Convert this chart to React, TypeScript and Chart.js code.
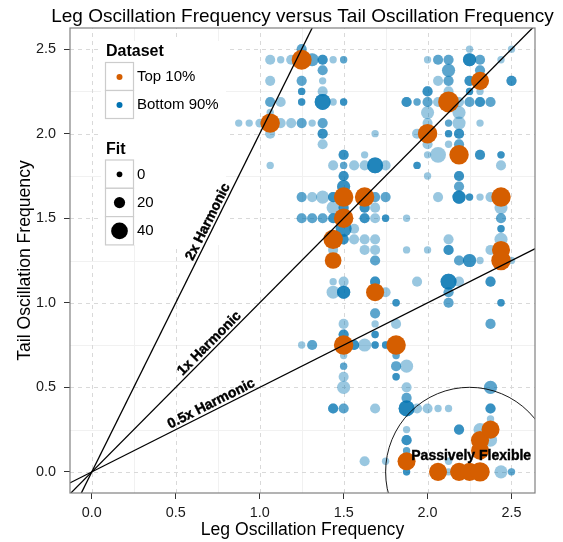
import { useEffect, useRef } from 'react';
import { Chart, registerables } from 'chart.js';

Chart.register(...registerables);

const titleText = 'Leg Oscillation Frequency versus Tail Oscillation Frequency';
const xTitle = 'Leg Oscillation Frequency';
const yTitle = 'Tail Oscillation Frequency';

const xTicks = [0, 0.5, 1, 1.5, 2, 2.5];
const yTicks = [0, 0.5, 1, 1.5, 2, 2.5];
const xMinor = [0.25, 0.75, 1.25, 1.75, 2.25];
const yMinor = [0.25, 0.75, 1.25, 1.75, 2.25];
const xRange = [-0.13, 2.64];
const yRange = [-0.125, 2.625];

const harmonics = [2, 1, 0.5];
const harmonicLabels = ['2x Harmonic', '1x Harmonic', '0.5x Harmonic'];
const harmonicLabelX = 0.73;

const passiveCircle = [2.25, 0, 0.5];
const passiveLabel = 'Passively Flexible';
const passiveLabelPos = [2.26, 0.095];

const seriesNames = ['Top 10%', 'Bottom 90%'];
const fitLegendValues = [0, 20, 40];

// [leg freq, tail freq, fit]
const topPoints: [number, number, number][] = [
  [1.0625, 2.0625, 50], [1.25, 2.4375, 52], [1.4375, 1.375, 50], [1.4375, 1.25, 40],
  [1.5, 1.625, 50], [1.5, 1.5, 50], [1.625, 1.625, 50], [1.6875, 1.0625, 45],
  [1.5, 0.75, 50], [1.8125, 0.75, 50], [2.0, 2.0, 50], [2.125, 2.1875, 55],
  [2.1875, 1.875, 50], [2.3125, 2.3125, 45], [2.4375, 1.625, 50], [2.4375, 1.3125, 45],
  [2.4375, 1.25, 50], [1.875, 0.0625, 45], [2.0625, 0.0, 45], [2.1875, 0.0, 45],
  [2.25, 0.0, 45], [2.3125, 0.0, 50], [2.3125, 0.125, 45], [2.3125, 0.1875, 45],
  [2.375, 0.25, 45],
];

// [leg freq, tail freq, fit, overlapping count]
const bottomPoints: [number, number, number, number][] = [
  [0.875, 2.0625, 6, 1], [0.9375, 2.0625, 6, 1], [1.0, 2.0625, 11, 1],
  [1.0625, 2.4375, 16, 1], [1.0625, 2.3125, 16, 1], [1.0625, 2.1875, 16, 2], [1.0625, 2.125, 6, 1],
  [1.0625, 2.0, 16, 1], [1.0625, 1.8125, 6, 1],
  [1.125, 2.4375, 6, 1], [1.125, 2.1875, 16, 1], [1.125, 2.0625, 16, 1],
  [1.1875, 2.4375, 16, 1], [1.1875, 2.0625, 16, 1],
  [1.25, 2.5, 16, 2], [1.25, 2.3125, 16, 2], [1.25, 2.25, 6, 3], [1.25, 2.1875, 6, 3],
  [1.25, 2.0625, 16, 2], [1.25, 1.625, 16, 2], [1.25, 1.5, 16, 2], [1.25, 0.75, 6, 1],
  [1.3125, 2.4375, 27, 2], [1.3125, 2.0625, 6, 1], [1.3125, 1.625, 16, 1], [1.3125, 1.5, 16, 2],
  [1.3125, 0.75, 16, 2],
  [1.375, 2.4375, 16, 3], [1.375, 2.375, 16, 2], [1.375, 2.3125, 6, 1], [1.375, 2.25, 16, 1],
  [1.375, 2.1875, 37, 4], [1.375, 2.0625, 16, 2], [1.375, 2.0, 16, 3], [1.375, 1.9375, 16, 1],
  [1.375, 1.625, 27, 1], [1.375, 1.5, 16, 2],
  [1.4375, 2.4375, 6, 1], [1.4375, 2.1875, 6, 1], [1.4375, 1.8125, 16, 1], [1.4375, 1.625, 16, 3],
  [1.4375, 1.5625, 27, 1], [1.4375, 1.5, 16, 3], [1.4375, 1.3125, 16, 1], [1.4375, 1.125, 6, 1],
  [1.4375, 1.0625, 27, 1], [1.4375, 0.375, 16, 3],
  [1.5, 2.4375, 6, 2], [1.5, 2.1875, 6, 3], [1.5, 1.875, 16, 3], [1.5, 1.8125, 6, 2],
  [1.5, 1.75, 16, 3], [1.5, 1.6875, 27, 3], [1.5, 1.5625, 16, 3], [1.5, 1.4375, 37, 3],
  [1.5, 1.375, 16, 3], [1.5, 1.125, 16, 1], [1.5, 1.0625, 27, 4], [1.5, 0.875, 16, 1],
  [1.5, 0.8125, 16, 3], [1.5, 0.6875, 6, 1], [1.5, 0.625, 6, 2], [1.5, 0.5625, 16, 1],
  [1.5, 0.5, 27, 1], [1.5, 0.375, 16, 2],
  [1.5625, 1.8125, 16, 1], [1.5625, 1.4375, 16, 1], [1.5625, 1.375, 16, 1], [1.5625, 0.75, 16, 3],
  [1.625, 1.875, 6, 1], [1.625, 1.8125, 16, 1], [1.625, 1.5625, 16, 3], [1.625, 1.5, 16, 3],
  [1.625, 1.375, 16, 1], [1.625, 1.3125, 16, 1], [1.625, 0.75, 27, 1], [1.625, 0.0625, 16, 1],
  [1.6875, 2.0, 6, 1], [1.6875, 1.8125, 37, 4], [1.6875, 1.625, 16, 2], [1.6875, 1.5625, 16, 1],
  [1.6875, 1.5, 16, 1], [1.6875, 1.375, 16, 1], [1.6875, 1.3125, 16, 1], [1.6875, 1.25, 16, 2],
  [1.6875, 1.125, 16, 3], [1.6875, 0.9375, 16, 2], [1.6875, 0.875, 6, 1], [1.6875, 0.8125, 6, 3],
  [1.6875, 0.75, 6, 3], [1.6875, 0.375, 16, 1],
  [1.75, 1.8125, 16, 1], [1.75, 1.625, 16, 2], [1.75, 1.5, 6, 3], [1.75, 1.0625, 16, 1],
  [1.75, 0.75, 6, 3], [1.75, 0.0625, 6, 1],
  [1.8125, 1.0, 6, 3], [1.8125, 0.875, 16, 1], [1.8125, 0.6875, 6, 2], [1.8125, 0.625, 16, 2],
  [1.8125, 0.5625, 6, 3],
  [1.875, 2.1875, 16, 3], [1.875, 1.5, 6, 1], [1.875, 1.3125, 6, 1], [1.875, 0.625, 27, 1],
  [1.875, 0.5, 16, 1], [1.875, 0.4375, 16, 2], [1.875, 0.375, 37, 4], [1.875, 0.25, 6, 1],
  [1.875, 0.1875, 16, 3], [1.875, 0.125, 6, 2], [1.875, 0.0, 6, 3],
  [1.9375, 2.1875, 6, 2], [1.9375, 1.8125, 6, 3], [1.9375, 2.0, 16, 1], [1.9375, 1.125, 16, 1],
  [1.9375, 0.375, 16, 1],
  [2.0, 2.4375, 6, 1], [2.0, 2.25, 16, 3], [2.0, 2.1875, 16, 2], [2.0, 2.125, 27, 1],
  [2.0, 2.0625, 16, 1], [2.0, 1.9375, 16, 1], [2.0, 1.875, 6, 1], [2.0, 1.75, 6, 1],
  [2.0, 1.3125, 6, 1], [2.0, 0.375, 16, 1],
  [2.0625, 2.4375, 16, 2], [2.0625, 2.3125, 16, 1], [2.0625, 2.1875, 16, 1], [2.0625, 1.875, 37, 1],
  [2.0625, 1.625, 16, 1], [2.0625, 0.375, 6, 1],
  [2.125, 2.4375, 16, 2], [2.125, 2.375, 27, 2], [2.125, 2.3125, 16, 2], [2.125, 2.25, 16, 1],
  [2.125, 2.0625, 6, 2], [2.125, 2.0, 6, 3], [2.125, 1.9375, 6, 1], [2.125, 1.375, 16, 1],
  [2.125, 1.3125, 16, 3], [2.125, 1.125, 37, 4], [2.125, 1.0625, 16, 2], [2.125, 1.0, 16, 2],
  [2.125, 0.375, 6, 1], [2.125, 0.0625, 6, 1], [2.125, 0.0, 6, 1],
  [2.1875, 2.1875, 16, 1], [2.1875, 2.125, 27, 1], [2.1875, 2.0625, 27, 1], [2.1875, 2.0, 16, 3],
  [2.1875, 1.9375, 16, 2], [2.1875, 1.75, 16, 3], [2.1875, 1.6875, 16, 2], [2.1875, 1.625, 27, 4],
  [2.1875, 1.25, 16, 2], [2.1875, 1.125, 16, 1], [2.1875, 0.25, 16, 3],
  [2.25, 2.5, 6, 1], [2.25, 2.4375, 27, 4], [2.25, 2.3125, 16, 3], [2.25, 2.25, 6, 3],
  [2.25, 2.1875, 16, 2], [2.25, 1.625, 6, 3], [2.25, 1.25, 27, 3],
  [2.3125, 2.4375, 16, 2], [2.3125, 2.375, 16, 2], [2.3125, 2.25, 6, 1], [2.3125, 2.1875, 16, 3],
  [2.3125, 2.0625, 6, 1], [2.3125, 1.875, 16, 3], [2.3125, 1.625, 6, 1], [2.3125, 1.25, 6, 1],
  [2.3125, 0.25, 27, 1],
  [2.375, 2.1875, 16, 2], [2.375, 1.625, 16, 1], [2.375, 1.3125, 16, 1], [2.375, 1.125, 16, 3],
  [2.375, 0.875, 16, 2], [2.375, 0.5, 27, 2], [2.375, 0.375, 16, 3], [2.375, 0.3125, 6, 1],
  [2.375, 0.1875, 27, 1],
  [2.4375, 2.4375, 6, 1], [2.4375, 1.875, 6, 3], [2.4375, 1.8125, 16, 1], [2.4375, 1.5625, 27, 1],
  [2.4375, 1.5, 16, 2], [2.4375, 1.4375, 6, 3], [2.4375, 1.375, 27, 1], [2.4375, 1.0, 6, 3],
  [2.4375, 0.0, 27, 1],
  [2.5, 2.5, 6, 1], [2.5, 2.3125, 16, 3], [2.5, 1.25, 6, 1], [2.5, 0.0, 6, 2],
];

const FONT = "'Liberation Sans', Arial, Helvetica, sans-serif";
const ORANGE = '#D55E00';
const BLUE_SOLID = '#0072B2';
const BLUE_ALPHA = 'rgba(0,114,178,0.4)';

const radius = (fit: number) => 2.85 + 0.1375 * fit;

export default function App() {
  const ref = useRef<HTMLCanvasElement | null>(null);

  useEffect(() => {
    if (!ref.current) return;

    const topData = topPoints.map(([x, y, f]) => ({ x, y, r: radius(f) }));
    const bottomData: { x: number; y: number; r: number }[] = [];
    bottomPoints.forEach(([x, y, f, n]) => {
      for (let i = 0; i < n; i++) bottomData.push({ x, y, r: radius(f) });
    });

    const lineSets = harmonics.map((k) => ({
      type: 'line' as const,
      data: [
        { x: xRange[0] - 0.1, y: k * (xRange[0] - 0.1) },
        { x: xRange[1] + 0.1, y: k * (xRange[1] + 0.1) },
      ],
      borderColor: '#000',
      borderWidth: 1.3,
      pointRadius: 0,
      fill: false,
      order: 0,
    }));

    const drawLegend = (ctx: CanvasRenderingContext2D) => {
      ctx.save();
      ctx.fillStyle = '#fff';
      ctx.fillRect(101, 41, 125, 204);
      ctx.fillStyle = '#000';
      ctx.textAlign = 'left';
      ctx.textBaseline = 'alphabetic';
      ctx.font = `bold 16px ${FONT}`;
      ctx.fillText('Dataset', 106, 56);
      const keyX = 105.5;
      const keyW = 28;
      const colors = [ORANGE, BLUE_SOLID];
      seriesNames.forEach((name, i) => {
        const ky = 62.5 + i * 28;
        ctx.fillStyle = '#fff';
        ctx.fillRect(keyX, ky, keyW, 28);
        ctx.strokeStyle = '#cccccc';
        ctx.lineWidth = 1.2;
        ctx.strokeRect(keyX, ky, keyW, 28);
        ctx.fillStyle = colors[i];
        ctx.beginPath();
        ctx.arc(keyX + keyW / 2, ky + 14.5, 3, 0, Math.PI * 2);
        ctx.fill();
        ctx.fillStyle = '#000';
        ctx.font = `15px ${FONT}`;
        ctx.textBaseline = 'middle';
        ctx.fillText(name, 137, ky + 14.5);
        ctx.textBaseline = 'alphabetic';
      });
      ctx.font = `bold 16px ${FONT}`;
      ctx.fillText('Fit', 106, 154);
      fitLegendValues.forEach((v, i) => {
        const ky = 160 + i * 28.3;
        ctx.fillStyle = '#fff';
        ctx.fillRect(keyX, ky, keyW, 28.3);
        ctx.strokeStyle = '#cccccc';
        ctx.lineWidth = 1.2;
        ctx.strokeRect(keyX, ky, keyW, 28.3);
        ctx.fillStyle = '#000';
        ctx.beginPath();
        ctx.arc(keyX + keyW / 2, ky + 14.3, radius(v), 0, Math.PI * 2);
        ctx.fill();
        ctx.font = `15px ${FONT}`;
        ctx.textBaseline = 'middle';
        ctx.fillText(String(v), 137, ky + 14.5);
        ctx.textBaseline = 'alphabetic';
      });
      ctx.restore();
    };

    const gridPlugin = {
      id: 'ggGrid',
      beforeDatasetsDraw(chart: any) {
        const { ctx, chartArea: a, scales } = chart;
        const xs = scales.x;
        const ys = scales.y;
        ctx.save();
        ctx.fillStyle = '#fff';
        ctx.fillRect(a.left, a.top, a.right - a.left, a.bottom - a.top);
        ctx.lineWidth = 1;
        ctx.strokeStyle = '#f1f1f1';
        ctx.setLineDash([]);
        xMinor.forEach((v) => {
          const p = Math.round(xs.getPixelForValue(v)) + 0.5;
          ctx.beginPath(); ctx.moveTo(p, a.top); ctx.lineTo(p, a.bottom); ctx.stroke();
        });
        yMinor.forEach((v) => {
          const p = Math.round(ys.getPixelForValue(v)) + 0.5;
          ctx.beginPath(); ctx.moveTo(a.left, p); ctx.lineTo(a.right, p); ctx.stroke();
        });
        ctx.strokeStyle = '#d9d9d9';
        ctx.setLineDash([4, 4]);
        xTicks.forEach((v) => {
          const p = Math.round(xs.getPixelForValue(v)) + 0.5;
          ctx.beginPath(); ctx.moveTo(p, a.bottom); ctx.lineTo(p, a.top); ctx.stroke();
        });
        yTicks.forEach((v) => {
          const p = Math.round(ys.getPixelForValue(v)) + 0.5;
          ctx.beginPath(); ctx.moveTo(a.left, p); ctx.lineTo(a.right, p); ctx.stroke();
        });
        ctx.restore();
        drawLegend(ctx);
      },
    };

    const annotPlugin = {
      id: 'ggAnnot',
      afterDatasetsDraw(chart: any) {
        const { ctx, chartArea: a, scales } = chart;
        const xs = scales.x;
        const ys = scales.y;
        ctx.save();
        ctx.beginPath();
        ctx.rect(a.left, a.top, a.right - a.left, a.bottom - a.top);
        ctx.clip();
        const cx = xs.getPixelForValue(passiveCircle[0]);
        const cy = ys.getPixelForValue(passiveCircle[1]);
        const rx = Math.abs(xs.getPixelForValue(passiveCircle[0] + passiveCircle[2]) - cx);
        const ry = Math.abs(ys.getPixelForValue(passiveCircle[1] + passiveCircle[2]) - cy);
        ctx.beginPath();
        ctx.ellipse(cx, cy, rx, ry, 0, 0, Math.PI * 2);
        ctx.strokeStyle = '#000';
        ctx.lineWidth = 0.9;
        ctx.stroke();

        ctx.fillStyle = '#000';
        ctx.strokeStyle = '#000';
        ctx.lineWidth = 0.4;
        ctx.font = `bold 14px ${FONT}`;
        ctx.textAlign = 'center';
        ctx.textBaseline = 'middle';
        harmonics.forEach((k, i) => {
          const px = xs.getPixelForValue(harmonicLabelX);
          const py = ys.getPixelForValue(k * harmonicLabelX);
          const dx = xs.getPixelForValue(1) - xs.getPixelForValue(0);
          const dy = ys.getPixelForValue(0) - ys.getPixelForValue(k);
          const ang = Math.atan2(dy, dx);
          const off = 7;
          const tx = px - Math.sin(ang) * off;
          const ty = py - Math.cos(ang) * off;
          ctx.save();
          ctx.translate(tx, ty);
          ctx.rotate(-ang);
          ctx.fillText(harmonicLabels[i], 0, 0);
          ctx.strokeText(harmonicLabels[i], 0, 0);
          ctx.restore();
        });
        const lx = xs.getPixelForValue(passiveLabelPos[0]);
        const ly = ys.getPixelForValue(passiveLabelPos[1]);
        ctx.fillText(passiveLabel, lx, ly);
        ctx.strokeText(passiveLabel, lx, ly);
        ctx.restore();
      },
      afterDraw(chart: any) {
        const { ctx, chartArea: a } = chart;
        ctx.save();
        ctx.strokeStyle = '#808080';
        ctx.lineWidth = 1.2;
        ctx.setLineDash([]);
        ctx.strokeRect(a.left, a.top, a.right - a.left, a.bottom - a.top);
        ctx.fillStyle = '#000';
        ctx.textAlign = 'center';
        ctx.textBaseline = 'alphabetic';
        const midX = (a.left + a.right) / 2;
        const midY = (a.top + a.bottom) / 2;
        ctx.font = `19px ${FONT}`;
        ctx.fillText(titleText, midX, 22);
        ctx.font = `17.6px ${FONT}`;
        ctx.fillText(xTitle, midX, 535);
        ctx.translate(30, midY);
        ctx.rotate(-Math.PI / 2);
        ctx.fillText(yTitle, 0, 0);
        ctx.restore();
      },
    };

    const tickFont = { family: FONT, size: 14.4 };

    const chart = new Chart(ref.current, {
      type: 'bubble',
      data: {
        datasets: [
          ...lineSets,
          {
            label: seriesNames[0],
            data: topData,
            backgroundColor: ORANGE,
            borderWidth: 0,
            order: 1,
          },
          {
            label: seriesNames[1],
            data: bottomData,
            backgroundColor: BLUE_ALPHA,
            borderWidth: 0,
            order: 2,
          },
        ] as any,
      },
      options: {
        responsive: false,
        animation: false,
        events: [],
        layout: { padding: { left: 0, right: 28, top: 28, bottom: 0 } },
        plugins: {
          legend: { display: false },
          tooltip: { enabled: false },
          title: { display: false },
        },
        scales: {
          x: {
            type: 'linear',
            min: xRange[0],
            max: xRange[1],
            afterBuildTicks: (s: any) => {
              s.ticks = xTicks.map((v) => ({ value: v }));
            },
            afterFit: (s: any) => {
              s.height = 49;
            },
            ticks: {
              font: tickFont,
              color: '#1a1a1a',
              padding: 5,
              maxRotation: 0,
              autoSkip: false,
              callback: (v: any) => Number(v).toFixed(1),
            },
            grid: {
              drawOnChartArea: false,
              drawTicks: true,
              tickLength: 6,
              tickColor: '#333',
              tickWidth: 1,
            },
            border: { display: false },
          },
          y: {
            type: 'linear',
            min: yRange[0],
            max: yRange[1],
            afterBuildTicks: (s: any) => {
              s.ticks = yTicks.map((v) => ({ value: v }));
            },
            afterFit: (s: any) => {
              s.width = 70;
            },
            ticks: {
              font: tickFont,
              color: '#1a1a1a',
              padding: 8,
              autoSkip: false,
              callback: (v: any) => Number(v).toFixed(1),
            },
            grid: {
              drawOnChartArea: false,
              drawTicks: true,
              tickLength: 6,
              tickColor: '#333',
              tickWidth: 1,
            },
            border: { display: false },
          },
        },
      },
      plugins: [gridPlugin, annotPlugin],
    });

    return () => chart.destroy();
  }, []);

  return (
    <div style={{ position: 'absolute', left: 0, top: 0, width: 563, height: 542, background: '#fff' }}>
      <canvas ref={ref} width={563} height={542} style={{ width: 563, height: 542 }} />
    </div>
  );
}
